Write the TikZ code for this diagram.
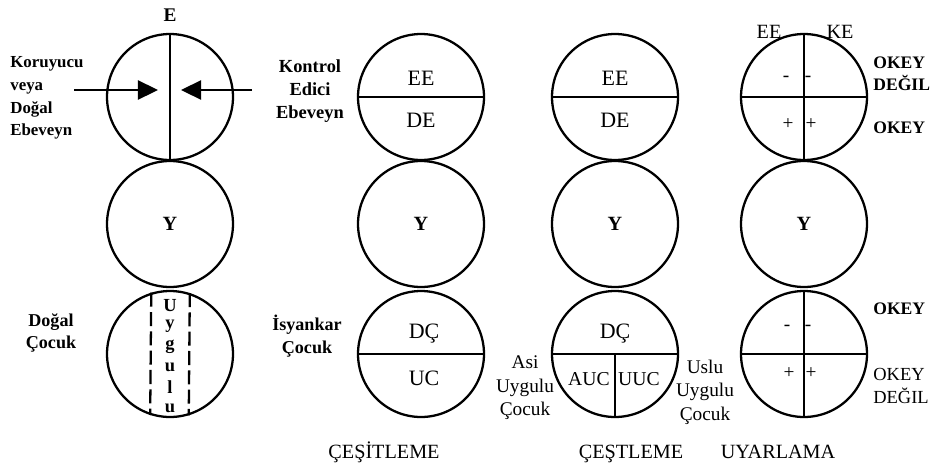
\documentclass[tikz,border=0pt]{standalone}
\usepackage{fontspec}
\setmainfont{Liberation Serif}
\usetikzlibrary{arrows.meta}

\tikzset{
	ring/.style = {circle, draw, line width = 1.3pt, minimum size = 2.52cm, inner sep = 0pt},
	part/.style = {line width = 1.3pt},
	side/.style = {align = center, font = \fontsize{10.3}{13}\selectfont\bfseries},
	inlbl/.style = {font = \fontsize{12.5}{14}\selectfont},
	sign/.style = {font = \fontsize{11}{13}\selectfont},
	kid/.style = {align = center, font = \fontsize{11}{13.3}\selectfont},
	okey/.style = {anchor = west, align = left, inner sep = 0pt, font = \fontsize{10.5}{12.8}\selectfont},
	mode/.style = {anchor = base, font = \fontsize{11.5}{14}\selectfont}
}

\begin{document}
\begin{tikzpicture}[x = 0.02cm, y = -0.02cm]
	\useasboundingbox (0,0) rectangle (935,474);

	\draw
	(170,97) node[ring](E1){}
	(170,224) node[ring](Y1){} node[font = \fontsize{11.5}{13}\selectfont\bfseries]{Y}
	(170,354) node[ring](C1){}
	(421,97) node[ring](E2){}
	(421,224) node[ring](Y2){} node[font = \fontsize{11.5}{13}\selectfont\bfseries]{Y}
	(421,354) node[ring](C2){}
	(615,97) node[ring](E3){}
	(615,224) node[ring](Y3){} node[font = \fontsize{11.5}{13}\selectfont\bfseries]{Y}
	(615,354) node[ring](C3){}
	(804,97) node[ring](E4){}
	(804,224) node[ring](Y4){} node[font = \fontsize{11.5}{13}\selectfont\bfseries]{Y}
	(804,354) node[ring](C4){};

	% first column
	\node[font = \fontsize{11}{13}\selectfont\bfseries] (lE) at (170,15) {E};
	\node[side, anchor = west, align = left, inner sep = 0pt, font = \fontsize{9.6}{13}\selectfont\bfseries] (lKor) at (10,98) {Koruyucu\\veya\\Doğal\\Ebeveyn};
	\node[side] (lDC) at (51,333) {Doğal\\Çocuk};
	\coordinate (aL) at (74,90);
	\coordinate (tL) at (158,90);
	\coordinate (aR) at (252,90);
	\coordinate (tR) at (181,90);
	\draw[part] (E1.north) -- (E1.south);
	\draw[line width = 1pt, -{Triangle[length = 11.5pt, width = 11pt]}] (aL) -- (tL);
	\draw[line width = 1pt, -{Triangle[length = 11.5pt, width = 11pt]}] (aR) -- (tR);
	\draw[part, dash pattern = on 8pt off 3pt] (C1.107.5) -- (C1.252.5);
	\draw[part, dash pattern = on 8pt off 3pt] (C1.72.5) -- (C1.287.5);
	\foreach \l [count = \i] in {U,y,g,u,l,u}
		\node[font = \fontsize{10.5}{12}\selectfont\bfseries] (u\i) at (170,285+20.5*\i) {\l};

	% second column
	\node[side, font = \fontsize{10.5}{13}\selectfont\bfseries] (lKon) at (310,91) {Kontrol\\Edici\\Ebeveyn};
	\node[side] (lIs) at (307,336) {İsyankar\\Çocuk};
	\draw[part] (E2.west) -- (E2.east);
	\draw[part] (C2.west) -- (C2.east);
	\node[inlbl] (ee2) at (421,78) {EE};
	\node[inlbl] (de2) at (421,120) {DE};
	\node[inlbl] (dc2) at (424,334) {DÇ};
	\node[inlbl] (uc2) at (424,378) {UC};

	% third column
	\draw[part] (E3.west) -- (E3.east);
	\draw[part] (C3.west) -- (C3.east);
	\draw[part] (C3.center) -- (C3.south);
	\node[inlbl] (ee3) at (615,78) {EE};
	\node[inlbl] (de3) at (615,120) {DE};
	\node[inlbl] (dc3) at (615,334) {DÇ};
	\node[inlbl, font = \fontsize{11.2}{13}\selectfont] (auc) at (589,379) {AUC};
	\node[inlbl, font = \fontsize{11.2}{13}\selectfont] (uuc) at (639,379) {UUC};
	\node[kid] (lAsi) at (525,388) {Asi\\Uygulu\\Çocuk};
	\node[kid] (lUs) at (705,392) {Uslu\\Uygulu\\Çocuk};

	% fourth column
	\draw[part] (E4.north) -- (E4.south);
	\draw[part] (E4.west) -- (E4.east);
	\draw[part] (C4.north) -- (C4.south);
	\draw[part] (C4.west) -- (C4.east);
	\node[inlbl, font = \fontsize{11.5}{13}\selectfont] (ee4) at (769,32) {EE};
	\node[inlbl, font = \fontsize{11.5}{13}\selectfont] (ke4) at (840,32) {KE};
	\node[sign] (m1) at (786,79) {-};
	\node[sign] (m2) at (808,79) {-};
	\node[sign] (p1) at (788,124) {+};
	\node[sign] (p2) at (811,124) {+};
	\node[sign] (m3) at (787,328) {-};
	\node[sign] (m4) at (808,328) {-};
	\node[sign] (p3) at (789,373) {+};
	\node[sign] (p4) at (811,373) {+};
	\node[okey, font = \fontsize{10}{12.8}\selectfont\bfseries] (ok1) at (873,74) {OKEY\\DEĞIL};
	\node[okey, font = \fontsize{10}{12.8}\selectfont\bfseries] (ok2) at (873,128) {OKEY};
	\node[okey, font = \fontsize{10}{12.8}\selectfont\bfseries] (ok3) at (873,309) {OKEY};
	\node[okey] (ok4) at (873,386) {OKEY\\DEĞIL};

	% bottom titles
	\node[mode] (t1) at (384,458) {ÇEŞİTLEME};
	\node[mode] (t2) at (631,458) {ÇEŞTLEME};
	\node[mode] (t3) at (778,458) {UYARLAMA};
\end{tikzpicture}
\end{document}
